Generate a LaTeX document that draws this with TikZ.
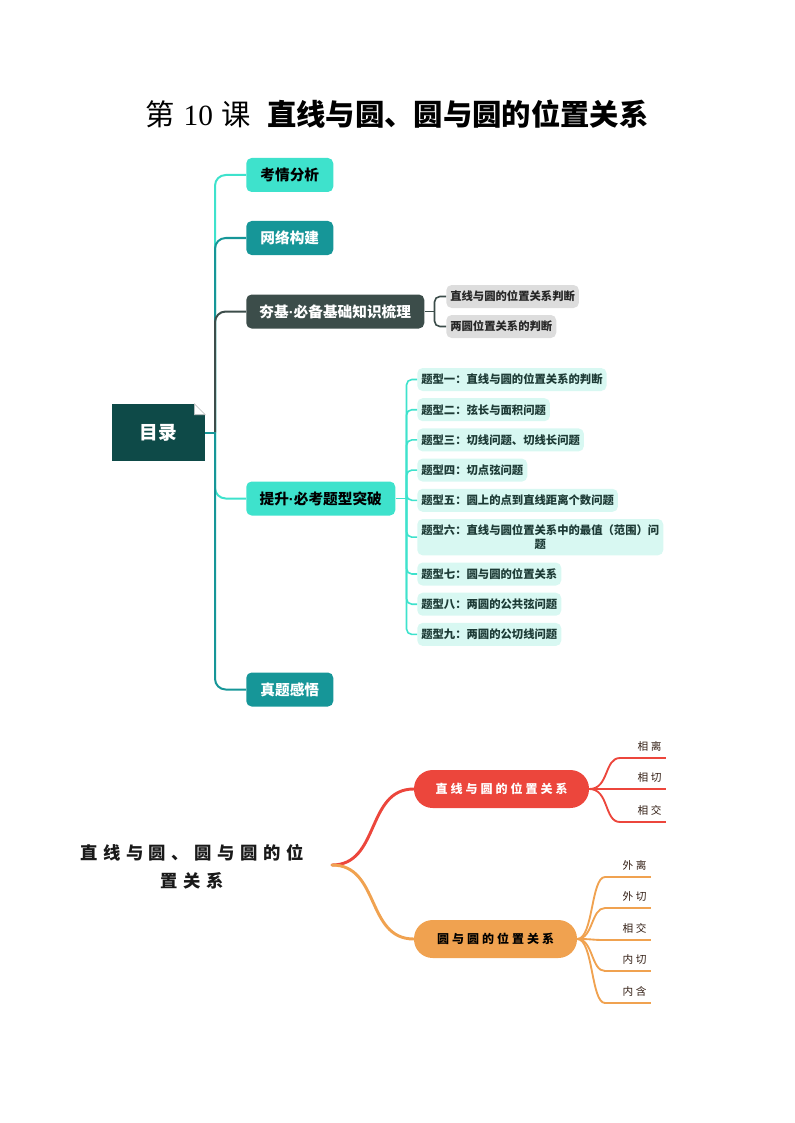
\documentclass[tikz,border=0pt]{standalone}
\usepackage{fontspec}
\usetikzlibrary{positioning, calc}
\newfontfamily\cjk{Noto Sans CJK SC}
\newfontfamily\cjkwide[LetterSpace=25]{Noto Sans CJK SC}
\newfontfamily\rootwide[LetterSpace=32]{Noto Sans CJK SC}
\newfontfamily\numfont{Liberation Serif}
\newfontfamily\dotfont{Liberation Sans}
\newcommand{\middot}{{\dotfont\bfseries ·}}
\definecolor{rootcolor}{RGB}{14, 74, 72}
\definecolor{turqcolor}{RGB}{62, 226, 204}
\definecolor{tealcolor}{RGB}{22, 150, 152}
\definecolor{basecolor}{RGB}{60, 77, 74}
\definecolor{itemcolor}{RGB}{216, 248, 242}
\definecolor{itemtext}{RGB}{29, 59, 54}
\definecolor{greycolor}{RGB}{221, 221, 221}
\definecolor{redcolor}{RGB}{236, 70, 60}
\definecolor{orangecolor}{RGB}{240, 162, 80}
\definecolor{leafcolor}{RGB}{50, 30, 20}

\begin{document}
\begin{tikzpicture}[
    x=0.75pt, y=-0.75pt,
    % Node styles
    topic/.style={
        rectangle,
        rounded corners=4pt,
        minimum height=25.5pt,
        inner xsep=3pt,
        anchor=west,
        font=\cjk\bfseries\fontsize{11}{13}\selectfont
    },
    subitem/.style={
        rectangle,
        rounded corners=4pt,
        minimum height=17.25pt,
        inner xsep=3pt,
        inner ysep=4pt,
        align=center,
        font=\cjk\bfseries\fontsize{8.5}{11}\selectfont
    },
    pill/.style={
        rectangle,
        rounded corners=14pt,
        minimum height=28.5pt,
        font=\cjkwide\bfseries\fontsize{9}{11}\selectfont
    },
    leaf/.style={
        text width=28pt,
        align=right,
        inner xsep=3pt,
        inner ysep=5pt,
        anchor=south west,
        text=leafcolor,
        font=\cjkwide\fontsize{8}{10}\selectfont
    },
    % Connector styles
    trunk/.style={line width=1.5pt, rounded corners=8pt},
    twig/.style={line width=1.2pt, rounded corners=4pt},
    branch/.style={line width=2.2pt, line cap=round},
    sprig/.style={line width=1.4pt}
]
\useasboundingbox (0,0) rectangle (794,1123);

% ===== TITLE =====
\node[font=\fontsize{22}{26}\selectfont] (title) at (397,114)
    {{\cjk 第}\hspace{0.3em}{\numfont 10}\hspace{0.3em}{\cjk 课}\hspace{0.55em}{\cjk\bfseries 直线与圆、圆与圆的位置关系}};

% ===== CONTENTS MAP =====
\node[rectangle, fill=rootcolor, text=white, minimum width=69.75pt, minimum height=42.75pt,
      font=\cjk\bfseries\fontsize{14}{16}\selectfont] (mulu) at (158.5,432.5) {目录};
\fill[white] ($(mulu.north east)+(-11,0)$) -- (mulu.north east) -- ($(mulu.north east)+(0,11)$) -- cycle;
\filldraw[fill=white, draw=black!25, line width=0.4pt]
    ($(mulu.north east)+(-11,0)$) -- ($(mulu.north east)+(-11,11)$) -- ($(mulu.north east)+(0,11)$) -- cycle;

\node[topic, fill=turqcolor, text=black, minimum width=65.25pt] (kaoqing) at (246,175) {考情分析};
\node[topic, fill=tealcolor, text=white, minimum width=65.25pt] (wangluo) at (246,238) {网络构建};
\node[topic, fill=basecolor, text=white, minimum width=133.5pt] (hangji) at (246,311.5) {夯基\middot 必备基础知识梳理};
\node[topic, fill=turqcolor, text=black, minimum width=111.75pt] (tisheng) at (246,498.5) {提升\middot 必考题型突破};
\node[topic, fill=tealcolor, text=white, minimum width=65.25pt] (zhenti) at (246,689.5) {真题感悟};

% trunk edges (drawing order gives the segment colours)
\coordinate (hub) at (215,432.5);
\draw[trunk, turqcolor] (hub) |- (kaoqing.west);
\draw[trunk, tealcolor] (hub) |- (wangluo.west);
\draw[trunk, basecolor] (hub) |- (hangji.west);
\draw[trunk, turqcolor] (hub) |- (tisheng.west);
\draw[trunk, tealcolor] (hub) |- (zhenti.west);
\draw[trunk, tealcolor] (mulu.east) -- (hub);

% basics sub-items
\node[subitem, fill=greycolor, text=black!85, anchor=west] (jc1) at (446,296.5) {直线与圆的位置关系判断};
\node[subitem, fill=greycolor, text=black!85, anchor=west] (jc2) at (446,326.5) {两圆位置关系的判断};

\draw[twig, basecolor] (hangji.east) -- ++(10,0) coordinate (hjfork);
\draw[twig, basecolor] (hjfork) |- (jc1.west);
\draw[twig, basecolor] (hjfork) |- (jc2.west);

% question types
\node[subitem, fill=itemcolor, text=itemtext, anchor=west] (tx1) at (417,379.5) {题型一：直线与圆的位置关系的判断};
\node[subitem, fill=itemcolor, text=itemtext, below=5pt of tx1.south west, anchor=north west] (tx2) {题型二：弦长与面积问题};
\node[subitem, fill=itemcolor, text=itemtext, below=5pt of tx2.south west, anchor=north west] (tx3) {题型三：切线问题、切线长问题};
\node[subitem, fill=itemcolor, text=itemtext, below=5pt of tx3.south west, anchor=north west] (tx4) {题型四：切点弦问题};
\node[subitem, fill=itemcolor, text=itemtext, below=5pt of tx4.south west, anchor=north west] (tx5) {题型五：圆上的点到直线距离个数问题};
\node[subitem, fill=itemcolor, text=itemtext, below=5pt of tx5.south west, anchor=north west] (tx6) {题型六：直线与圆位置关系中的最值（范围）问\\题};
\node[subitem, fill=itemcolor, text=itemtext, below=5pt of tx6.south west, anchor=north west] (tx7) {题型七：圆与圆的位置关系};
\node[subitem, fill=itemcolor, text=itemtext, below=5pt of tx7.south west, anchor=north west] (tx8) {题型八：两圆的公共弦问题};
\node[subitem, fill=itemcolor, text=itemtext, below=5pt of tx8.south west, anchor=north west] (tx9) {题型九：两圆的公切线问题};

\draw[twig, turqcolor] (tisheng.east) -- ++(11,0) coordinate (tsfork);
\foreach \t in {tx1,tx2,tx3,tx4,tx5,tx6,tx7,tx8,tx9}
    \draw[twig, turqcolor] (tsfork) |- (\t.west);

% ===== KNOWLEDGE MAP =====
\node[align=center, text=black!90, font=\rootwide\bfseries\fontsize{13}{21}\selectfont] (zhuti) at (192,867)
    {直线与圆、圆与圆的位\\置关系};
\coordinate (broot) at (332,865);

\node[pill, fill=redcolor, text=white, minimum width=131.25pt] (xy) at (501.5,789) {直线与圆的位置关系};
\node[pill, fill=orangecolor, text=black, minimum width=122.25pt] (yy) at (495.5,939) {圆与圆的位置关系};

\draw[branch, redcolor] (broot) .. controls (380,865) and (366,789) .. (xy.west);
\draw[branch, orangecolor] (broot) .. controls (380,865) and (366,939) .. (yy.west);

% line and circle
\node[leaf] (xl1) at (620,758) {相离};
\node[leaf] (xl2) at (620,789) {相切};
\node[leaf] (xl3) at (620,822) {相交};
\foreach \l in {xl1,xl2,xl3}
    \draw[sprig, redcolor] (xy.east) .. controls +(20,0) and +(-16,0) .. (\l.south west) -- (\l.south east);

% circle and circle
\node[leaf] (yl1) at (605,877) {外离};
\node[leaf] (yl2) at (605,908) {外切};
\node[leaf] (yl3) at (605,940) {相交};
\node[leaf] (yl4) at (605,971) {内切};
\node[leaf] (yl5) at (605,1003) {内含};
\foreach \l in {yl1,yl2,yl3,yl4,yl5}
    \draw[sprig, orangecolor] (yy.east) .. controls +(16,0) and +(-14,0) .. (\l.south west) -- (\l.south east);

\end{tikzpicture}
\end{document}
